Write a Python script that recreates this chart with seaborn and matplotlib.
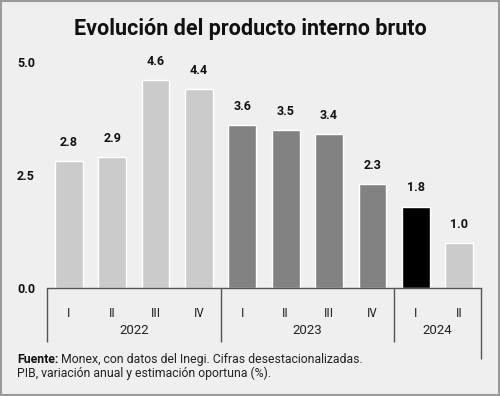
import matplotlib
matplotlib.use("Agg")
import matplotlib.pyplot as plt
from matplotlib import font_manager
from matplotlib.patches import Rectangle
import seaborn as sns
import pandas as pd

# data
QUARTERS = ["I", "II", "III", "IV", "I", "II", "III", "IV", "I", "II"]
YEARS    = ["2022"] * 4 + ["2023"] * 4 + ["2024"] * 2
VALUES   = [2.8, 2.9, 4.6, 4.4, 3.6, 3.5, 3.4, 2.3, 1.8, 1.0]
YTICKS   = [0.0, 2.5, 5.0]

LIGHT, DARK, BLACK = "#cbcbcb", "#828282", "#000000"
BAR_COLORS = [LIGHT] * 4 + [DARK] * 4 + [BLACK, LIGHT]
BG = "#efefef"

sns.set_theme(style="white")
names = {f.name for f in font_manager.fontManager.ttflist}
FONT = "Roboto" if "Roboto" in names else "DejaVu Sans"
COND = "Roboto Condensed" if "Roboto Condensed" in names else FONT
plt.rcParams["font.family"] = [FONT, "DejaVu Sans"]

df = pd.DataFrame({"pos": [str(i) for i in range(len(VALUES))],
                   "quarter": QUARTERS, "year": YEARS, "value": VALUES})

fig = plt.figure(figsize=(5.0, 3.96), dpi=100, facecolor=BG)
ax = fig.add_axes([0.094, 0.2727, 0.868, 0.6051])
ax.set_facecolor(BG)

sns.barplot(data=df, x="pos", y="value", hue="pos", palette=BAR_COLORS,
            width=0.64, legend=False, ax=ax, saturation=1)

ax.set_xlim(-0.5, len(VALUES) - 0.5)
ax.set_ylim(0, 5.3)

# value labels
for i, v in enumerate(VALUES):
    ax.annotate(f"{v:.1f}", (i, v), xytext=(0, 13.5), textcoords="offset points",
                ha="center", va="center", fontsize=9, fontweight="semibold", color="#111111")

# y axis
ax.set_yticks(YTICKS)
ax.set_yticklabels([f"{t:.1f}" for t in YTICKS], fontsize=9, fontweight="semibold",
                   ha="left", color="#111111")
ax.tick_params(axis="y", length=0, pad=21.6)

# x axis: quarters as tick labels, years underneath
ax.set_xticks(range(len(VALUES)))
ax.set_xticklabels(QUARTERS, fontsize=9.5, color="#222222", family=[COND, "DejaVu Sans"])
ax.tick_params(axis="x", length=0, pad=14)
ax.set_xlabel("")
ax.set_ylabel("")

for s in ["top", "right", "left"]:
    ax.spines[s].set_visible(False)
ax.spines["bottom"].set_color("#555555")
ax.spines["bottom"].set_linewidth(1.0)

xt = ax.get_xaxis_transform()
groups = {}
for i, y in enumerate(YEARS):
    groups.setdefault(y, []).append(i)
for y, idx in groups.items():
    ax.text(sum(idx) / len(idx), -0.176, y, transform=xt, ha="center", va="center",
            fontsize=9.5, color="#222222")

bounds = [-0.5] + [idx[-1] + 0.5 for idx in groups.values()]
for b in bounds[:-1]:
    ax.vlines(b, -0.225, 0, transform=xt, color="#555555", lw=1.0, clip_on=False)
ax.vlines(bounds[-1], -0.296, 0, transform=xt, color="#555555", lw=1.0, clip_on=False)

# title
fig.text(0.5, 0.927, "Evolución del producto interno bruto", ha="center", va="center",
         fontsize=15.5, fontweight="bold", color="#111111")

# footer
fig.canvas.draw()
r = fig.canvas.get_renderer()
t1 = fig.text(0.034, 0.093, "Fuente:", ha="left", va="center", fontsize=8.8,
              fontweight="bold", color="#111111")
bb = t1.get_window_extent(renderer=r)
fig.text((bb.x1 + 3) / fig.bbox.width, 0.093,
         "Monex, con datos del Inegi. Cifras desestacionalizadas.",
         ha="left", va="center", fontsize=8.8, color="#222222")
fig.text(0.034, 0.058, "PIB, variación anual y estimación oportuna (%).",
         ha="left", va="center", fontsize=8.8, color="#222222")

# border around the card
fig.patches.append(Rectangle((0.002, 0.0025), 0.996, 0.995, transform=fig.transFigure,
                             fill=False, edgecolor="#9a9a9a", lw=1.5))

fig.savefig("out.png", dpi=100, facecolor=BG)
